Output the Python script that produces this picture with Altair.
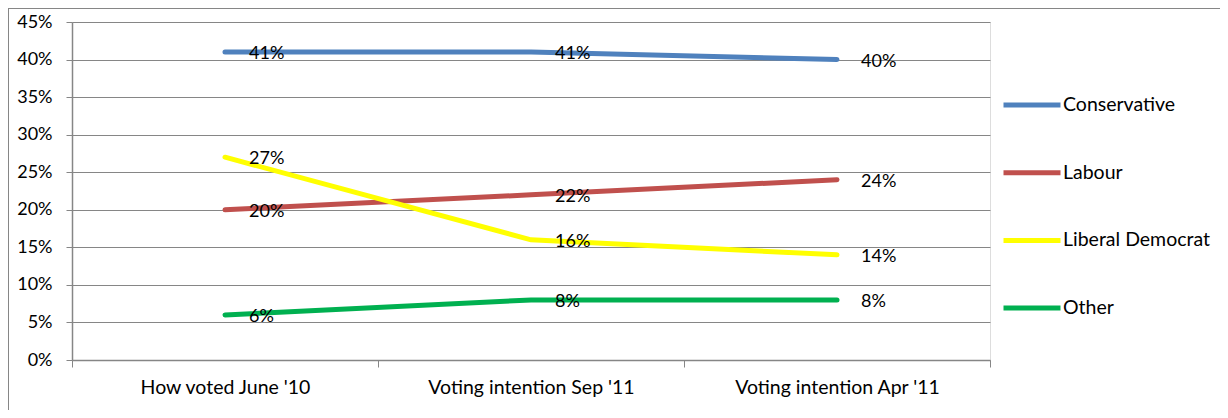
import altair as alt
import pandas as pd

categories = ["How voted June '10", "Voting intention Sep '11", "Voting intention Apr '11"]
parties = ["Conservative", "Labour", "Liberal Democrat", "Other"]
conservative = [41, 41, 40]
labour = [20, 22, 24]
libdem = [27, 16, 14]
other = [6, 8, 8]
colors = ["#4F81BD", "#C0504D", "#FFFF00", "#00B050"]
y_ticks = [0, 5, 10, 15, 20, 25, 30, 35, 40, 45]

series = [conservative, labour, libdem, other]
rows = []
for p, vals in zip(parties, series):
    for c, v in zip(categories, vals):
        rows.append({"category": c, "party": p, "value": v, "label": f"{v}%"})
df = pd.DataFrame(rows)

FONT = "Lato"
GRID = "#868686"
NUM_SIZE = 18
WORD_SIZE = 19.5

x_enc = alt.X("category:N", sort=categories, bandPosition=0.5,
              scale=alt.Scale(type="band", paddingInner=0, paddingOuter=0),
              axis=alt.Axis(title=None, labelAngle=0, grid=False, domainColor=GRID,
                            tickColor=GRID, tickSize=7, tickBand="extent",
                            labelPadding=11, labelFont=FONT, labelFontSize=WORD_SIZE,
                            labelLimit=400, labelColor="#000000", domainWidth=1.5))
y_enc = alt.Y("value:Q", scale=alt.Scale(domain=[0, 45], nice=False),
              axis=alt.Axis(title=None, values=y_ticks, tickCount=10, labelOverlap=False,
                            labelExpr="datum.value + '%'",
                            gridColor=GRID, gridWidth=1.2, domainColor=GRID, domainWidth=1.5,
                            tickColor=GRID, tickSize=6, labelPadding=14,
                            labelFont=FONT, labelFontSize=NUM_SIZE, labelColor="#000000"))

color_enc = alt.Color("party:N", sort=parties,
                      scale=alt.Scale(domain=parties, range=colors),
                      legend=alt.Legend(title=None, orient="none", legendX=929, legendY=52,
                                        symbolType="stroke", symbolSize=3249,
                                        symbolStrokeWidth=5, labelFont=FONT,
                                        labelFontSize=WORD_SIZE, labelColor="#000000",
                                        labelLimit=400, labelOffset=0, rowPadding=26.7))

lines = alt.Chart(df).mark_line(strokeWidth=5, strokeCap="round").encode(
    x=x_enc, y=y_enc, color=color_enc, order=alt.Order("party:N")
)

labels = alt.Chart(df).mark_text(align="left", baseline="middle", dx=24, dy=2,
                                 font=FONT, fontSize=NUM_SIZE, color="#000000").encode(
    x=alt.X("category:N", sort=categories, bandPosition=0.5),
    y="value:Q",
    text="label:N",
)

border_top = alt.Chart(df).mark_rule(color=GRID, strokeWidth=2).encode(
    x=alt.value(-64), x2=alt.value(1160), y=alt.value(-14)
)
border_left = alt.Chart(df).mark_rule(color=GRID, strokeWidth=2).encode(
    x=alt.value(-64), y=alt.value(-14), y2=alt.value(400)
)

chart = alt.layer(border_top, border_left, lines, labels).properties(
    width=918, height=338,
    autosize=alt.AutoSizeParams(type="none"),
    padding={"left": 64, "top": 14, "right": 230, "bottom": 50},
).configure_view(stroke=None).configure(background="white")

chart.save("out.html", embed_options={"renderer": "svg", "actions": False})
